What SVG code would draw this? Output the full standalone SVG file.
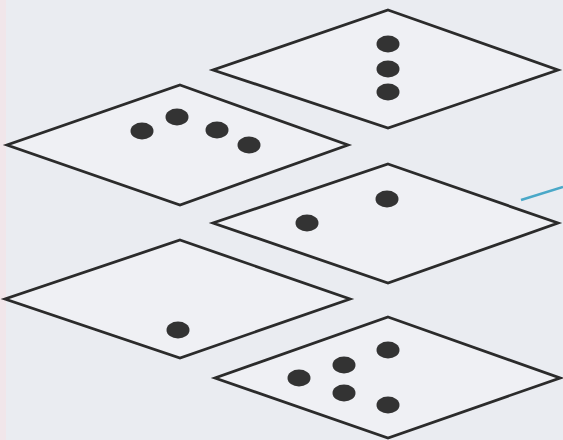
<svg xmlns="http://www.w3.org/2000/svg" width="563" height="440" viewBox="0 0 563 440">
<style>
.r{fill:#eff0f4;stroke:#2b2b2b;stroke-width:2.8;stroke-linejoin:miter}
.d{fill:#333}
</style>
<rect width="563" height="440" fill="#eaecf1"/>
<rect width="6" height="440" fill="#f1e6ea"/>
<g id="tile1"><polygon class="r" points="388,10 558,70 388,128 213,70"/>
<ellipse class="d" cx="388" cy="44" rx="11.5" ry="8.5"/><ellipse class="d" cx="388" cy="69" rx="11.5" ry="8.5"/><ellipse class="d" cx="388" cy="92" rx="11.5" ry="8.5"/></g>
<g id="tile2"><polygon class="r" points="180,85 348,145 180,205 7,145"/>
<ellipse class="d" cx="142" cy="131" rx="11.5" ry="8.5"/><ellipse class="d" cx="177" cy="117" rx="11.5" ry="8.5"/><ellipse class="d" cx="217" cy="130" rx="11.5" ry="8.5"/><ellipse class="d" cx="249" cy="145" rx="11.5" ry="8.5"/></g>
<g id="tile3"><polygon class="r" points="388,164 558,223 388,283 213,223"/>
<ellipse class="d" cx="387" cy="199" rx="11.5" ry="8.5"/><ellipse class="d" cx="307" cy="223" rx="11.5" ry="8.5"/></g>
<g id="tile4"><polygon class="r" points="180,240 350,299 180,358 5,299"/>
<ellipse class="d" cx="178" cy="330" rx="11.5" ry="8.5"/></g>
<g id="tile5"><polygon class="r" points="388,317 560,378 388,438 215,378"/>
<ellipse class="d" cx="388" cy="350" rx="11.5" ry="8.5"/><ellipse class="d" cx="344" cy="365" rx="11.5" ry="8.5"/><ellipse class="d" cx="299" cy="378" rx="11.5" ry="8.5"/><ellipse class="d" cx="344" cy="393" rx="11.5" ry="8.5"/><ellipse class="d" cx="388" cy="405" rx="11.5" ry="8.5"/></g>
<g id="connectors"><line x1="521" y1="200" x2="563" y2="187" stroke="#4aa8c8" stroke-width="2.5"/></g>
</svg>
